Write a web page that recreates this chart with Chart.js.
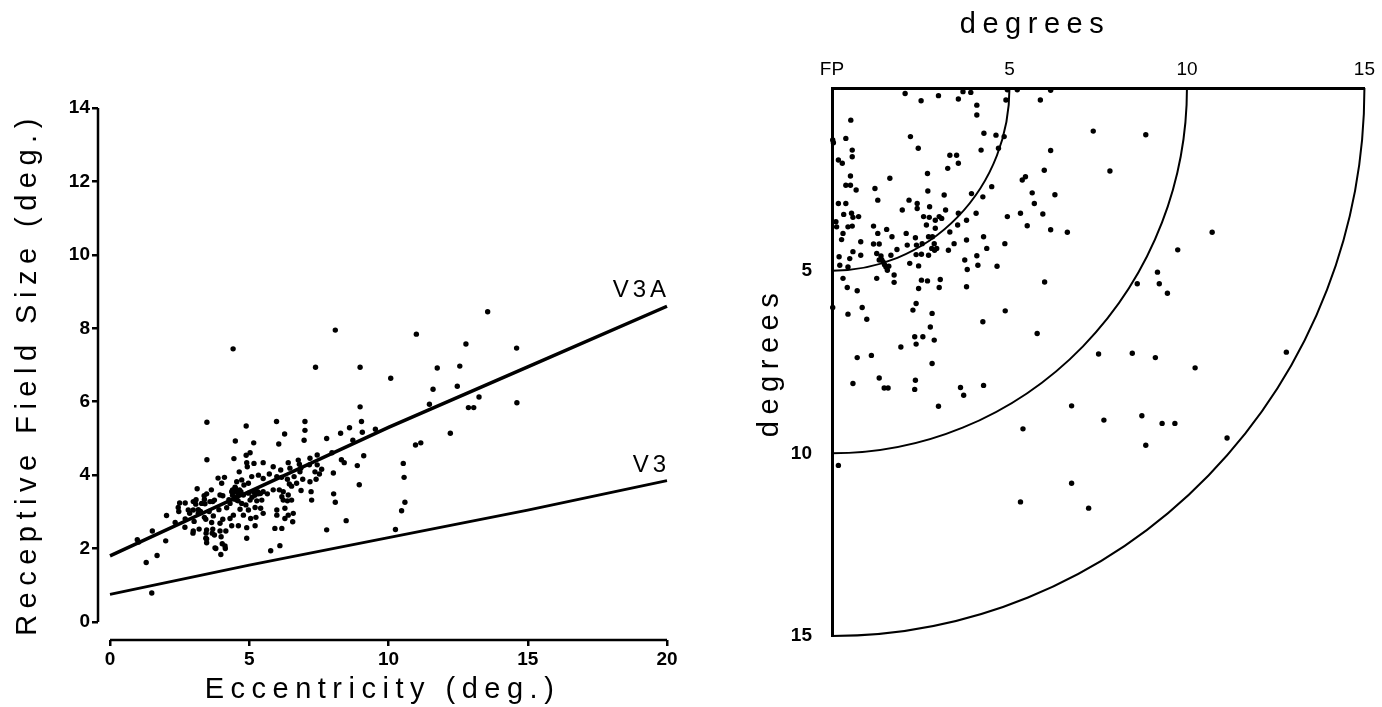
<!DOCTYPE html>
<html>
<head>
<meta charset="utf-8">
<script src="https://cdn.jsdelivr.net/npm/chart.js@4.4.1/dist/chart.umd.min.js"></script>
<style>
  html, body { margin: 0; padding: 0; background: #fff; }
  #wrap { position: relative; width: 1382px; height: 707px; overflow: hidden; }
  .panel { position: absolute; top: 0; height: 707px; }
  #left  { left: 0;     width: 698px; }
  #right { left: 698px; width: 684px; }
</style>
</head>
<body>
<div id="wrap">
  <div class="panel" id="left"><canvas id="rfChart"></canvas></div>
  <div class="panel" id="right"><canvas id="fieldChart"></canvas></div>
</div>
<script>
// ── Data: receptive field size vs eccentricity ────────────────────────────────
const eccTicks = [0, 5, 10, 15, 20];
const rfTicks = [0, 2, 4, 6, 8, 10, 12, 14];

// [eccentricity, field size] per cell
const rfCells = [
  // outer / upper cells
  [4.42,7.44],[8.09,7.95],[13.56,8.45],[11.0,7.84],[12.78,7.57],[14.6,7.46],[7.38,6.94],[8.98,6.94],
  [11.75,6.92],[12.56,6.97],[10.08,6.64],[11.6,6.34],[12.47,6.42],[11.47,5.93],[8.98,5.86],[12.87,5.84],
  [13.06,5.84],[13.25,6.13],[14.61,5.97],[12.22,5.14],[10.97,4.82],[11.16,4.88],[10.53,4.32],[10.56,3.94],
  [10.59,3.26],[10.47,3.03],[10.25,2.52],[9.53,5.25],[9.03,5.46],[9.06,5.17],[9.11,4.53],[8.95,3.74],
  [8.88,4.26],[8.72,4.95],[8.6,5.29],[8.28,5.14],[8.48,2.76],[8.09,3.26],[8.03,3.49],[8.02,4.06],
  [7.97,4.61],[8.31,4.42],[7.78,5.0],[7.78,2.51],[7.0,5.46],[7.0,5.22],[6.97,4.95],[5.98,5.46],
  [6.06,4.85],[6.27,5.12],[4.89,5.34],[3.48,5.44],[3.48,4.42],[4.5,4.93],[5.16,4.88],[5.03,4.61],
  [4.89,4.54],[4.45,4.45],[8.41,4.34],
  // central eccentricities below 4.3 deg
  [0.98,2.24],[1.03,2.18],[1.3,1.62],[1.52,2.48],[1.5,0.79],[1.69,1.81],[2.0,2.21],[2.03,2.9],
  [2.34,2.71],[2.47,3.01],[2.5,3.24],[2.7,3.24],[2.7,2.81],[2.86,2.96],[3.02,2.74],[2.98,2.42],
  [3.13,3.63],[3.09,3.33],[3.17,3.06],[3.25,3.01],[3.2,2.53],[3.38,3.44],[3.41,3.22],[3.44,2.8],
  [3.45,2.42],[3.47,2.26],[3.47,2.16],[3.56,3.01],[3.64,3.6],[3.69,3.28],[3.69,2.53],[3.75,2.37],
  [3.8,2.0],[3.88,3.92],[3.91,3.06],[3.95,2.69],[3.98,1.84],[4.03,2.13],[4.05,3.44],[4.11,3.94],
  [4.14,2.0],[4.16,2.48],[4.19,3.11],[4.27,3.33],
  [4.01,3.78],[3.47,3.49],[3.39,3.34],[3.95,3.46],[2.99,3.28],[3.08,3.21],[3.29,3.23],[3.59,3.28],
  [3.75,3.32],[2.45,3.12],[2.81,3.05],[2.99,3.05],[3.17,2.96],[3.39,2.85],[3.71,2.89],[3.65,2.71],
  [4.05,2.8],[2.69,2.58],[2.99,2.48],[3.47,2.51],[3.44,2.28],[3.67,2.42],[3.95,2.48],[3.99,2.32],
  [3.77,2.02],[4.13,2.07],
  // 4.3 - 8.3 deg cluster
  [4.91,4.34],[4.93,4.23],[5.17,4.32],[5.5,4.34],[6.4,4.34],[6.76,4.41],[6.8,4.3],[7.18,4.46],
  [7.44,4.55],[4.64,4.09],[5.09,3.96],[4.97,3.78],[5.33,4.0],[5.5,3.91],[5.86,4.23],[6.13,4.14],
  [6.46,4.19],[6.85,4.19],[6.82,4.09],[7.16,4.28],[7.44,4.28],[7.36,4.09],[7.6,4.16],[7.52,4.03],
  [7.4,3.89],[5.72,4.03],[5.99,3.96],[6.16,3.94],[6.37,3.89],[6.61,3.96],[6.44,3.76],[6.52,3.7],
  [6.7,3.78],[6.92,3.89],[4.55,3.82],[4.73,3.87],[4.81,3.73],[4.49,3.67],[4.37,3.55],[4.61,3.46],
  [4.79,3.46],[4.97,3.51],[5.15,3.55],[5.33,3.49],[5.5,3.55],[5.65,3.49],[5.03,3.32],[5.27,3.3],
  [5.45,3.32],[4.55,3.32],[4.73,3.23],[4.88,3.19],[4.31,3.23],[5.86,3.6],[6.08,3.6],[6.22,3.55],
  [6.4,3.46],[6.17,3.41],[6.22,3.32],[6.37,3.3],[6.52,3.32],[6.86,3.58],[7.22,3.55],[7.24,3.32],
  [4.67,3.07],[4.97,3.05],[5.21,3.12],[5.41,3.1],[5.5,2.96],[4.43,2.91],[4.79,2.91],[5.05,2.82],
  [5.24,2.85],[4.31,2.82],[5.99,3.05],[6.28,3.1],[5.99,2.91],[6.4,2.91],[6.28,2.82],[6.58,2.96],
  [6.56,2.73],[4.37,2.62],[4.61,2.62],[4.91,2.57],[5.21,2.62],[5.92,2.55],[6.17,2.55],[6.1,2.08],
  [4.91,2.28],[5.77,1.94],[7.18,3.82],
  // dense blob around 4.5 deg / 3.5 deg
  [4.4,3.45],[4.5,3.55],[4.6,3.5],[4.7,3.55],[4.45,3.35],[4.55,3.4],[4.65,3.6],[4.5,3.65],
  [4.6,3.3],[4.4,3.6],[5.2,3.45],[5.3,3.55],[5.4,3.5],[5.1,3.4],
];

// fitted lines, read at the x ticks
const fitX = [0, 5, 10, 15, 20];
const v3aFit = [1.8, 3.55, 5.3, 6.95, 8.6];
const v3Fit = [0.75, 1.55, 2.3, 3.05, 3.85];
const fitNames = ['V3A', 'V3'];

// ── Data: field centres in the visual field ───────────────────────────────────
const fieldTicks = [0, 5, 10, 15];
const fieldTopLabels = ['FP', '5', '10', '15'];
const fieldSideTicks = [5, 10, 15];
const ringRadii = [5, 10, 15];

// [horizontal deg, vertical deg] per cell
const fieldCentres = [
  // along the top edge
  [2.06,0.15],[2.51,0.35],[3.0,0.21],[3.56,0.3],[3.69,0.1],[3.91,0.12],[4.08,0.47],[4.08,0.74],
  [4.9,0.33],[4.94,0.05],[5.22,0.05],[5.87,0.33],[6.16,0.06],
  // near the vertical meridian
  [0.02,1.42],[0.04,1.5],[0.39,1.38],[0.53,0.88],[0.57,1.7],[0.57,1.88],[0.18,1.97],[0.29,2.06],
  [0.52,2.41],[0.39,2.66],[0.52,2.66],[0.68,2.79],[0.18,3.16],[0.39,3.16],[0.33,3.46],[0.55,3.43],
  [0.75,3.52],[0.59,3.54],[0.11,3.66],[0.13,3.8],[0.31,3.98],[0.45,3.8],[0.57,3.78],[0.27,4.15],
  [0.81,4.21],[0.59,4.48],[0.81,4.58],[0.2,4.62],[0.5,4.67],[0.22,4.85],[0.45,4.9],[0.31,5.21],
  [0.43,5.46],[0.71,5.55],[0.02,6.01],[0.45,6.19],[0.85,6.01],[0.98,6.33],[0.71,7.38],[1.11,7.32],
  [0.59,8.09],[1.33,7.94],[1.47,8.21],[1.58,8.21],[0.18,10.33],
  // 1 - 3 deg
  [1.17,3.78],[1.29,3.98],[1.17,4.27],[1.33,4.27],[1.54,3.87],[1.63,2.47],[1.21,2.75],[1.29,3.07],
  [1.69,4.07],[1.26,4.53],[1.38,4.6],[1.33,4.71],[1.44,4.76],[1.52,4.9],[1.56,4.99],[1.26,5.21],
  [1.75,5.12],[1.75,5.32],[1.66,4.58],[1.83,4.42],[1.98,3.34],[2.09,3.98],[2.12,4.3],[2.17,3.07],
  [2.4,3.16],[2.4,3.3],[2.21,1.33],[2.43,1.65],[1.94,7.09],[2.33,6.81],[2.37,7.01],[2.56,6.81],
  [2.35,8.0],[2.33,8.25],[2.28,6.08],[2.37,5.9],[2.69,2.34],[2.7,2.82],[2.75,3.25],[2.58,3.52],
  [2.74,3.54],[2.66,3.75],[2.72,4.07],[2.35,4.1],[2.38,4.3],[2.54,4.26],[2.52,4.55],[2.72,4.58],
  [2.19,4.8],[2.37,4.56],[2.44,4.87],[2.52,5.26],[2.69,5.28],[2.44,5.49],[3.05,5.24],[3.02,5.46],
  [2.82,6.17],[2.77,6.54],[2.88,6.9],[2.82,7.54],[3.0,8.71],
  [1.48,4.84],[1.4,4.7],[1.6,4.88],
  // 3 - 6 deg
  [2.91,3.62],[3.02,3.52],[3.09,3.57],[2.91,3.84],[2.83,4.07],[2.88,4.26],[2.81,4.39],[2.95,4.39],
  [2.89,4.44],[3.16,2.93],[3.2,3.34],[3.32,3.94],[3.26,2.2],[3.32,1.84],[3.51,1.84],[3.56,2.06],
  [3.28,4.44],[3.44,4.26],[3.54,3.75],[3.56,3.43],[3.79,3.62],[3.79,4.16],[3.74,4.71],[3.81,4.97],
  [3.93,2.89],[4.06,3.43],[4.25,2.98],[4.27,4.07],[4.36,4.39],[4.08,4.59],[4.11,4.85],[3.79,5.44],
  [4.2,1.7],[4.28,1.24],[4.5,2.7],[4.62,1.29],[4.69,1.65],[4.85,1.33],[4.87,4.26],[4.65,4.88],
  [4.25,6.4],[4.88,6.1],[4.94,3.52],[5.31,3.43],[5.36,2.52],[5.45,2.43],[5.5,3.77],[5.64,2.87],
  [5.7,3.16],[5.94,3.45],[5.98,2.25],[5.99,5.31],[5.78,6.72],[3.62,8.2],[3.71,8.41],[4.27,8.14],
  // periphery
  [6.16,1.71],[6.28,2.92],[6.16,3.88],[6.63,3.95],[7.36,1.18],[8.84,1.28],[7.83,2.27],[10.71,3.95],
  [9.74,4.43],[9.17,5.04],[9.22,5.36],[9.45,5.62],[8.6,5.36],[7.51,7.28],[8.46,7.26],[9.11,7.38],
  [10.23,7.66],[12.8,7.23],[6.75,8.7],[7.66,9.09],[8.73,8.97],[9.3,9.18],[9.66,9.18],[5.38,9.33],
  [11.13,9.58],[8.84,9.78],[6.75,10.82],[5.31,11.33],[7.23,11.5],
];

// ── Style ─────────────────────────────────────────────────────────────────────
const FONT = "'Liberation Sans', Arial, Helvetica, sans-serif";
const INK = '#000';
const TITLE_SIZE = 29;
const TICK_SIZE = 19;
const toXY = (pairs) => pairs.map(([x, y]) => ({ x, y }));
const fixedTicks = (vals) => (s) => { s.ticks = vals.map(value => ({ value })); };

// ── Plugins ───────────────────────────────────────────────────────────────────
// axis titles are drawn before the datasets, tick labels after (ticks.z = 1)
const spacedTitles = {
  id: 'spacedTitles',
  beforeDraw(chart) { chart.ctx.letterSpacing = '6.5px'; },
  beforeDatasetsDraw(chart) { chart.ctx.letterSpacing = '0px'; },
};

// axis lines that stop at the first/last tick, set off from the plot corner
const offsetSpines = {
  id: 'offsetSpines',
  beforeDatasetsDraw(chart) {
    const { ctx, chartArea, scales: { x, y } } = chart;
    ctx.save();
    ctx.strokeStyle = INK;
    ctx.lineWidth = 2.5;
    ctx.beginPath();
    ctx.moveTo(chartArea.left, y.getPixelForValue(rfTicks[rfTicks.length - 1]));
    ctx.lineTo(chartArea.left, y.getPixelForValue(rfTicks[0]));
    ctx.moveTo(x.getPixelForValue(eccTicks[0]), chartArea.bottom);
    ctx.lineTo(x.getPixelForValue(eccTicks[eccTicks.length - 1]), chartArea.bottom);
    ctx.stroke();
    ctx.restore();
  },
};

const lineLabels = {
  id: 'lineLabels',
  afterDatasetsDraw(chart) {
    const { ctx } = chart;
    ctx.save();
    ctx.font = `24px ${FONT}`;
    ctx.fillStyle = INK;
    ctx.textAlign = 'right';
    ctx.textBaseline = 'alphabetic';
    ctx.letterSpacing = '4px';
    chart.data.datasets.forEach((ds, i) => {
      if (!ds.endLabel) return;
      const pts = chart.getDatasetMeta(i).data;
      const end = pts[pts.length - 1];
      ctx.fillText(ds.endLabel, end.x + 3, end.y - 9);
    });
    ctx.restore();
  },
};

const rings = {
  id: 'rings',
  beforeDatasetsDraw(chart) {
    const { ctx, scales: { x, y } } = chart;
    const cx = x.getPixelForValue(0), cy = y.getPixelForValue(0);
    ctx.save();
    ctx.strokeStyle = INK;
    ctx.lineWidth = 2;
    ringRadii.forEach(r => {
      ctx.beginPath();
      ctx.ellipse(cx, cy, x.getPixelForValue(r) - cx, y.getPixelForValue(r) - cy, 0, 0, Math.PI / 2);
      ctx.stroke();
    });
    ctx.restore();
  },
};

// ── Left panel ────────────────────────────────────────────────────────────────
// pixel layout of the left panel (canvas coords)
const LP = { w: 698, h: 707, axisX: 98, zeroX: 110, endX: 667, topY: 108, zeroY: 622, axisY: 640 };
const lxUnit = (LP.endX - LP.zeroX) / (eccTicks[eccTicks.length - 1] - eccTicks[0]);
const lyUnit = (LP.zeroY - LP.topY) / (rfTicks[rfTicks.length - 1] - rfTicks[0]);

new Chart(document.getElementById('rfChart'), {
  type: 'scatter',
  data: {
    datasets: [
      {
        data: toXY(rfCells),
        pointRadius: 2.7, pointBorderWidth: 0, pointBackgroundColor: INK, clip: false,
      },
      {
        data: fitX.map((x, i) => ({ x, y: v3aFit[i] })), endLabel: fitNames[0],
        showLine: true, borderColor: INK, borderWidth: 3.5, pointRadius: 0, clip: false,
      },
      {
        data: fitX.map((x, i) => ({ x, y: v3Fit[i] })), endLabel: fitNames[1],
        showLine: true, borderColor: INK, borderWidth: 2.8, pointRadius: 0, clip: false,
      },
    ],
  },
  options: {
    responsive: true, maintainAspectRatio: false, animation: false, events: [],
    layout: { padding: { left: 0, top: LP.topY, right: LP.w - LP.endX, bottom: 0 } },
    plugins: { legend: { display: false }, tooltip: { enabled: false } },
    scales: {
      x: {
        type: 'linear',
        min: eccTicks[0] - (LP.zeroX - LP.axisX) / lxUnit,
        max: eccTicks[eccTicks.length - 1],
        afterFit: s => { s.height = LP.h - LP.axisY; },
        afterBuildTicks: fixedTicks(eccTicks),
        border: { display: false },
        grid: { display: true, drawOnChartArea: false, tickLength: 6, lineWidth: 2.5, color: INK },
        ticks: { z: 1, padding: 2, color: INK, font: { family: FONT, size: TICK_SIZE, weight: 'bold' } },
        title: {
          display: true, text: 'Eccentricity (deg.)', color: INK,
          font: { family: FONT, size: TITLE_SIZE }, padding: { top: 0, bottom: 0 },
        },
      },
      y: {
        type: 'linear',
        min: rfTicks[0] - (LP.axisY - LP.zeroY) / lyUnit,
        max: rfTicks[rfTicks.length - 1],
        afterFit: s => { s.width = LP.axisX; },
        afterBuildTicks: fixedTicks(rfTicks),
        border: { display: false },
        grid: { display: true, drawOnChartArea: false, tickLength: 6, lineWidth: 2.5, color: INK },
        ticks: { z: 1, padding: 2, color: INK, font: { family: FONT, size: TICK_SIZE, weight: 'bold' } },
        title: {
          display: true, text: 'Receptive Field Size (deg.)', color: INK,
          font: { family: FONT, size: TITLE_SIZE }, padding: { top: 11, bottom: 0 },
        },
      },
    },
  },
  plugins: [spacedTitles, offsetSpines, lineLabels],
});

// ── Right panel ───────────────────────────────────────────────────────────────
const RP = { w: 684, h: 707, left: 134, right: 674, top: 88, bottom: 636, titleTop: 8 };
const titleBox = TITLE_SIZE * 1.2 + RP.titleTop;

new Chart(document.getElementById('fieldChart'), {
  type: 'scatter',
  data: {
    datasets: [{
      data: toXY(fieldCentres),
      pointRadius: 2.7, pointBorderWidth: 0, pointBackgroundColor: INK, clip: false,
    }],
  },
  options: {
    responsive: true, maintainAspectRatio: false, animation: false, events: [],
    layout: { padding: { left: 0, top: 0, right: RP.w - RP.right, bottom: RP.h - RP.bottom } },
    plugins: {
      legend: { display: false }, tooltip: { enabled: false },
      title: {
        display: true, text: 'degrees', color: INK,
        font: { family: FONT, size: TITLE_SIZE, weight: 'normal' },
        padding: { top: RP.titleTop, bottom: 0 },
      },
    },
    scales: {
      x: {
        type: 'linear', position: 'top',
        min: fieldTicks[0], max: fieldTicks[fieldTicks.length - 1],
        afterFit: s => { s.height = RP.top - titleBox; },
        afterBuildTicks: fixedTicks(fieldTicks),
        border: { display: true, width: 3, color: INK },
        grid: { display: false, drawTicks: false },
        ticks: {
          z: 1, padding: 7, color: INK, font: { family: FONT, size: TICK_SIZE },
          callback: v => fieldTopLabels[fieldTicks.indexOf(v)],
        },
      },
      y: {
        type: 'linear', reverse: true,
        min: fieldTicks[0], max: fieldTicks[fieldTicks.length - 1],
        afterFit: s => { s.width = RP.left; },
        afterBuildTicks: fixedTicks(fieldSideTicks),
        border: { display: true, width: 3, color: INK },
        grid: { display: false, drawTicks: false },
        ticks: { z: 1, padding: 20, color: INK, font: { family: FONT, size: TICK_SIZE, weight: 'bold' } },
        title: {
          display: true, text: 'degrees', color: INK,
          font: { family: FONT, size: TITLE_SIZE }, padding: { top: 55, bottom: 0 },
        },
      },
    },
  },
  plugins: [spacedTitles, rings],
});
</script>
</body>
</html>
